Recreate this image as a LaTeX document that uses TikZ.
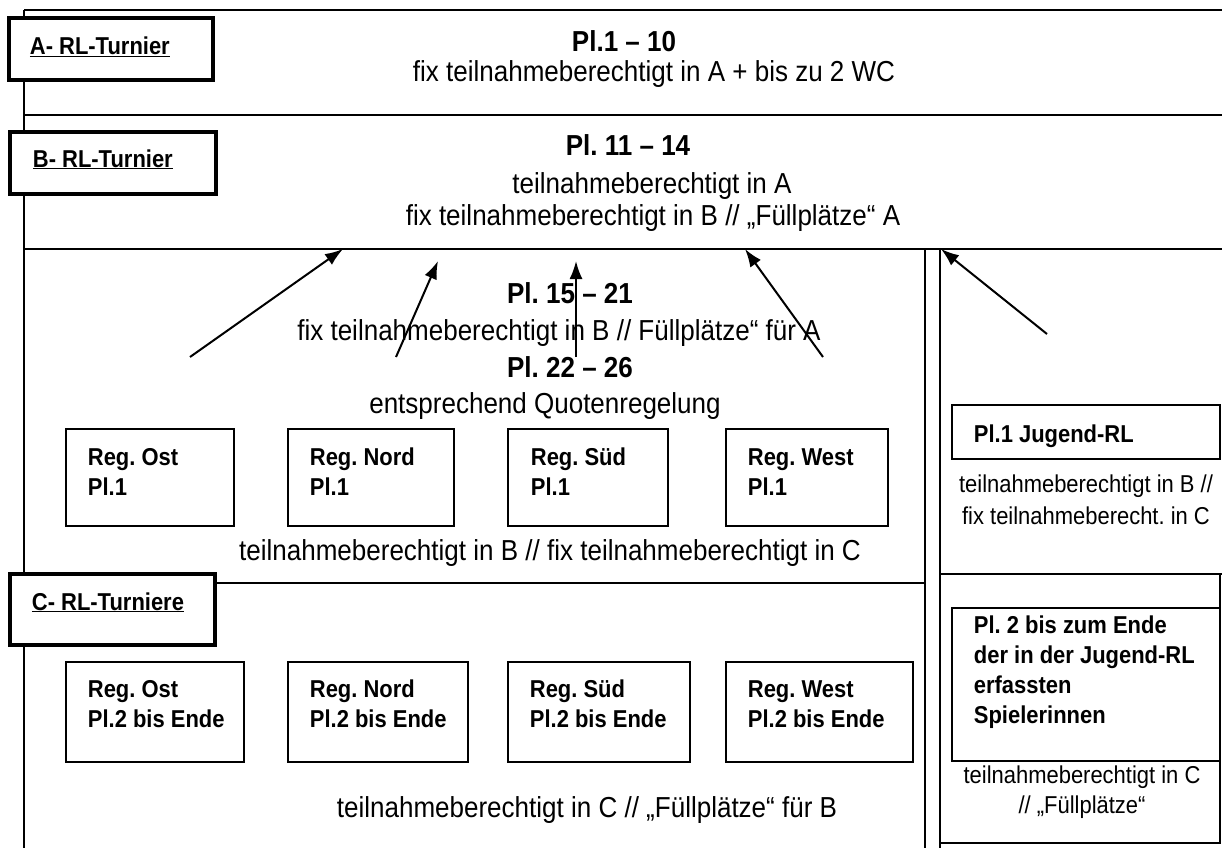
\documentclass[tikz,border=0pt]{standalone}
\usepackage{fontspec}
\setmainfont{Liberation Sans}[FakeStretch=0.9]
\usetikzlibrary{arrows.meta}
\tikzset{>={Latex[width=13pt,length=18pt]}}
\frenchspacing

\begin{document}
\begin{tikzpicture}[x=1pt, y=-1pt, line width=1.8pt, titlebox/.style={rectangle, draw=black, fill=white, line width=4pt, inner sep=0pt, outer sep=0pt, anchor=north west}, regbox/.style={rectangle, draw=black, fill=white, line width=1.8pt, inner sep=0pt, outer sep=0pt, anchor=north west}, bighead/.style={inner sep=0pt, font=\fontsize{28.9}{30}\selectfont\bfseries, anchor=base}, bigtext/.style={inner sep=0pt, font=\fontsize{28.9}{30}\selectfont, anchor=base}, smallhead/.style={inner sep=0pt, font=\fontsize{24.4}{30}\selectfont\bfseries, align=left, anchor=north west}, smalltext/.style={inner sep=0pt, font=\fontsize{24.4}{32}\selectfont, align=center, anchor=north}]

    \useasboundingbox (0,0) rectangle (1222,848);

    %Lines
    \draw (24,10) -- (1222,10);
    \draw (24,10) -- (24,848);
    \draw (24,115) -- (1222,115);
    \draw (24,249) -- (1222,249);
    \draw (24,583) -- (925,583);
    \draw (925,249) -- (925,848);
    \draw (940,249) -- (940,848);
    \draw (940,574) -- (1222,574);
    \draw (940,843) -- (1220,843) -- (1220,574);

    %Nodes
    \node[titlebox, minimum width=204.5pt, minimum height=62pt](boxA) at (8.5,18) {};
    \node[titlebox, minimum width=205.5pt, minimum height=62.5pt](boxB) at (10,131.5) {};
    \node[titlebox, minimum width=205pt, minimum height=70.5pt](boxC) at (10,574) {};
    \node[smallhead, anchor=base west](labA) at ([xshift=20.5pt,yshift=-37pt]boxA.north west) {\underline{A- RL-Turnier}};
    \node[smallhead, anchor=base west](labB) at ([xshift=22pt,yshift=-35.5pt]boxB.north west) {\underline{B- RL-Turnier}};
    \node[smallhead, anchor=base west](labC) at ([xshift=21pt,yshift=-36pt]boxC.north west) {\underline{C- RL-Turniere}};

    \node[bighead](plA) at (624,52) {Pl.1 – 10};
    \node[bigtext](fixA) at (654,82) {fix teilnahmeberechtigt in A + bis zu 2 WC};
    \node[bighead](plB) at (628,155) {Pl. 11 – 14};
    \node[bigtext](teilB) at (652,193) {teilnahmeberechtigt in A};
    \node[bigtext](fixB) at (653,225) {fix teilnahmeberechtigt in B // „Füllplätze“ A};
    \node[bighead](plC) at (570,303) {Pl. 15 – 21};
    \node[bigtext](fixC) at (559,340) {fix teilnahmeberechtigt in B // Füllplätze“ für A};
    \node[bighead](plD) at (570,377) {Pl. 22 – 26};
    \node[bigtext](quote) at (545,413) {entsprechend Quotenregelung};

    \node[regbox, minimum width=168pt, minimum height=97pt](ost1) at (66,429) {};
    \node[regbox, minimum width=166pt, minimum height=97pt](nord1) at (288,429) {};
    \node[regbox, minimum width=160pt, minimum height=97pt](sued1) at (508,429) {};
    \node[regbox, minimum width=162pt, minimum height=97pt](west1) at (726,429) {};
    \node[smallhead](ost1txt) at ([xshift=21pt,yshift=-18pt]ost1.north west) {\rule{0pt}{18pt}Reg. Ost\\Pl.1};
    \node[smallhead](nord1txt) at ([xshift=21pt,yshift=-18pt]nord1.north west) {\rule{0pt}{18pt}Reg. Nord\\Pl.1};
    \node[smallhead](sued1txt) at ([xshift=22pt,yshift=-18pt]sued1.north west) {\rule{0pt}{18pt}Reg. Süd\\Pl.1};
    \node[smallhead](west1txt) at ([xshift=21pt,yshift=-18pt]west1.north west) {\rule{0pt}{18pt}Reg. West\\Pl.1};
    \node[bigtext](teilC) at (550,560) {teilnahmeberechtigt in B // fix teilnahmeberechtigt in C};

    \node[regbox, minimum width=178pt, minimum height=100pt](ost2) at (66,662) {};
    \node[regbox, minimum width=180pt, minimum height=100pt](nord2) at (288,662) {};
    \node[regbox, minimum width=182pt, minimum height=100pt](sued2) at (508,662) {};
    \node[regbox, minimum width=187pt, minimum height=100pt](west2) at (726,662) {};
    \node[smallhead](ost2txt) at ([xshift=21pt,yshift=-17pt]ost2.north west) {\rule{0pt}{18pt}Reg. Ost\\Pl.2 bis Ende};
    \node[smallhead](nord2txt) at ([xshift=21pt,yshift=-17pt]nord2.north west) {\rule{0pt}{18pt}Reg. Nord\\Pl.2 bis Ende};
    \node[smallhead](sued2txt) at ([xshift=21pt,yshift=-17pt]sued2.north west) {\rule{0pt}{18pt}Reg. Süd\\Pl.2 bis Ende};
    \node[smallhead](west2txt) at ([xshift=21pt,yshift=-17pt]west2.north west) {\rule{0pt}{18pt}Reg. West\\Pl.2 bis Ende};
    \node[bigtext](teilD) at (587,817) {teilnahmeberechtigt in C // „Füllplätze“ für B};

    \node[regbox, minimum width=268pt, minimum height=54pt](jugend1) at (952,405) {};
    \node[smallhead](jugend1txt) at ([xshift=21pt,yshift=-19pt]jugend1.north west) {\rule{0pt}{18pt}Pl.1 Jugend-RL};
    \node[smalltext](jugend1sub) at ([yshift=-15pt]jugend1.south) {\rule{0pt}{18pt}teilnahmeberechtigt in B //\\fix teilnahmeberecht. in C};
    \node[regbox, minimum width=268pt, minimum height=153pt](jugend2) at (952,608) {};
    \node[smallhead](jugend2txt) at ([xshift=21pt,yshift=-7pt]jugend2.north west) {\rule{0pt}{18pt}Pl. 2 bis zum Ende\\der in der Jugend-RL\\erfassten\\Spielerinnen};
    \node[smalltext, font=\fontsize{24.4}{30}\selectfont](jugend2sub) at ([xshift=-4pt,yshift=-4pt]jugend2.south) {\rule{0pt}{18pt}teilnahmeberechtigt in C\\// „Füllplätze“};

    %Arrows
    \coordinate (t1) at (190,357); \coordinate (h1) at (343,249);
    \coordinate (t2) at (396,357); \coordinate (h2) at (438,261);
    \coordinate (t3) at (576,357); \coordinate (h3) at (576,261);
    \coordinate (t4) at (823,357); \coordinate (h4) at (745,249);
    \coordinate (t5) at (1047,334); \coordinate (h5) at (941,249);
    \draw[->, line width=2pt] (t1) -- (h1);
    \draw[->, line width=2pt] (t2) -- (h2);
    \draw[->, line width=2pt] (t3) -- (h3);
    \draw[->, line width=2pt] (t4) -- (h4);
    \draw[->, line width=2pt] (t5) -- (h5);

\end{tikzpicture}
\end{document}
